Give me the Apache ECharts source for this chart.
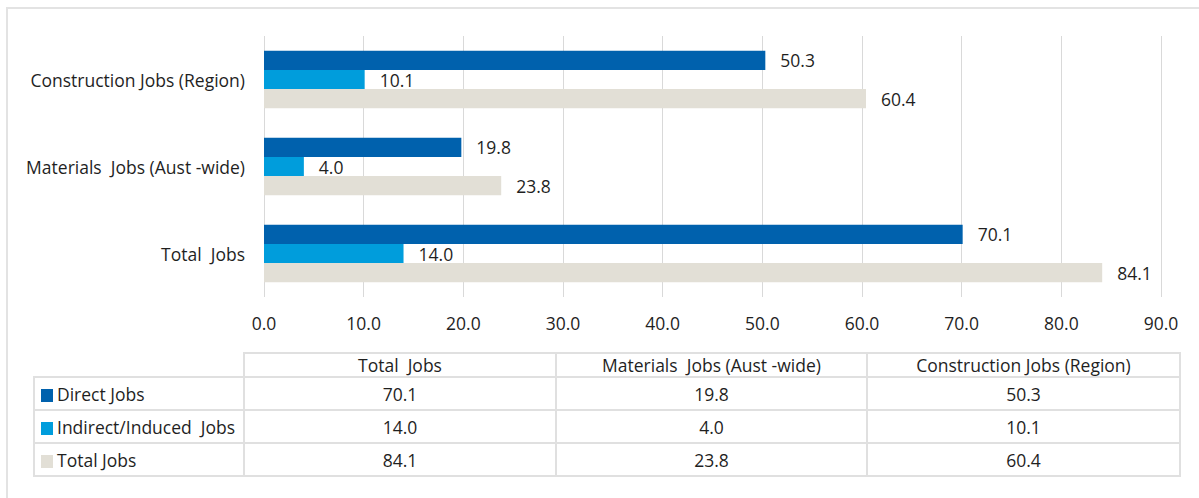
<!DOCTYPE html>
<html>
<head>
<meta charset="utf-8">
<script src="https://cdn.jsdelivr.net/npm/echarts@6/dist/echarts.min.js"></script>
<style>
  html, body { margin: 0; padding: 0; background: #fff; }
  body { width: 1199px; height: 498px; position: relative; overflow: hidden; font-family: "Open Sans", Lato, sans-serif; }
  #frame { position: absolute; left: 6px; top: 7px; width: 1200px; height: 500px; border: 2px solid #E3E3E3; box-sizing: border-box; }
  #chart { position: absolute; left: 0; top: 0; width: 1199px; height: 498px; }
  #tbl { position: absolute; left: 33px; top: 352px; border-collapse: collapse; font-size: 17.5px; color: #1F1F1F; }
  #tbl td { border: 2px solid #E0E0E0; text-align: center; white-space: pre; padding: 0; line-height: 20px; }
  #tbl tr.hd td { height: 22px; }
  #tbl tr.rw td { height: 31px; }
  #tbl td.blank { border-top: none; border-left: none; }
  #tbl td.name { text-align: left; padding-left: 6px; }
  .sw { display: inline-block; width: 12px; height: 13px; margin-right: 4px; vertical-align: -1px; }
</style>
</head>
<body>
<div id="frame"></div>
<div id="chart"></div>
<table id="tbl"></table>
<script>
// ---- data ----
var categories = ['Total  Jobs', 'Materials  Jobs (Aust -wide)', 'Construction Jobs (Region)'];
var seriesNames = ['Direct Jobs', 'Indirect/Induced  Jobs', 'Total Jobs'];
var directJobs = [70.1, 19.8, 50.3];
var indirectJobs = [14.0, 4.0, 10.1];
var totalJobs = [84.1, 23.8, 60.4];
var xMin = 0, xMax = 90, xStep = 10;
var colors = ['#0061AD', '#009DDC', '#E2DFD6'];

var seriesValues = [directJobs, indirectJobs, totalJobs];

// ---- chart ----
var chart = echarts.init(document.getElementById('chart'), null, { renderer: 'svg' });
var textColor = '#1F1F1F';
var fontFam = '"Open Sans", Lato, sans-serif';
var fs = 17.5;
var series = [];
for (var i = 0; i < seriesNames.length; i++) {
  series.push({
    name: seriesNames[i],
    type: 'bar',
    data: seriesValues[i],
    barGap: '0%',
    barCategoryGap: '34%',
    itemStyle: { color: colors[i] },
    label: {
      show: true, position: 'right', distance: 15,
      color: textColor, fontSize: fs, fontFamily: fontFam,
      formatter: function (p) { return p.value.toFixed(1); }
    }
  });
}
chart.setOption({
  animation: false,
  grid: { left: 264, right: 38, top: 36, bottom: 201, containLabel: false },
  xAxis: {
    type: 'value', min: xMin, max: xMax, interval: xStep,
    axisLine: { show: false }, axisTick: { show: false },
    splitLine: { show: true, lineStyle: { color: '#D9D9D9', width: 1 } },
    axisLabel: { color: textColor, fontSize: fs, fontFamily: fontFam, margin: 17,
      formatter: function (v) { return v.toFixed(1); } }
  },
  yAxis: {
    type: 'category', data: categories,
    axisLine: { show: false }, axisTick: { show: false },
    axisLabel: { color: textColor, fontSize: fs, fontFamily: fontFam, margin: 19 }
  },
  series: series
});

// ---- data table (legend + values) ----
var colW = [210, 312, 311, 313];
var tbl = document.getElementById('tbl');
var html = '<colgroup>' + colW.map(function (w) { return '<col style="width:' + w + 'px">'; }).join('') + '</colgroup>';
html += '<tr class="hd"><td class="blank"></td>' + categories.map(function (c) { return '<td>' + c + '</td>'; }).join('') + '</tr>';
for (var s = 0; s < seriesNames.length; s++) {
  html += '<tr class="rw"><td class="name"><span class="sw" style="background:' + colors[s] + '"></span>' + seriesNames[s] + '</td>';
  for (var c = 0; c < categories.length; c++) {
    html += '<td>' + seriesValues[s][c].toFixed(1) + '</td>';
  }
  html += '</tr>';
}
tbl.innerHTML = html;
tbl.style.tableLayout = 'fixed';
tbl.style.width = colW.reduce(function (a, b) { return a + b; }, 0) + 'px';
</script>
</body>
</html>
